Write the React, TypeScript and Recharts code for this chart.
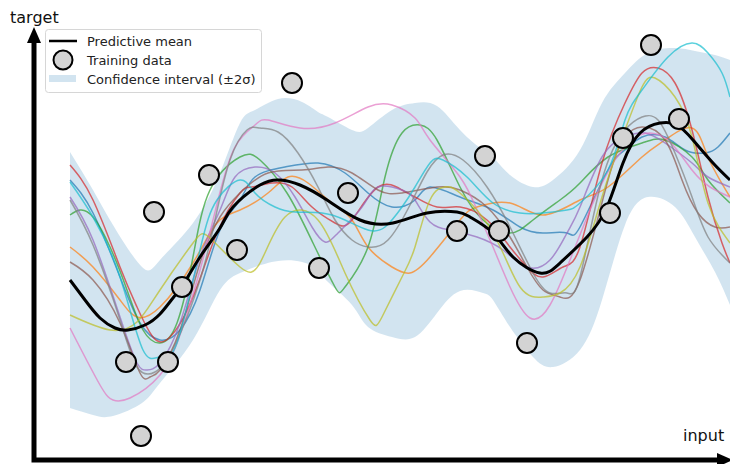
import { ComposedChart, Area, Line, Scatter, XAxis, YAxis } from "recharts";

// ============================================================
// GAUSSIAN PROCESS POSTERIOR CHART
// ============================================================

// ── Training observations: [input, target] ──
const trainingPoints = [
  [8.4, 24.8], [5.6, 9.8], [9.8, 9.8], [7.1, 2.4], [11.2, 17.3], [13.9, 28.5],
  [16.7, 21.0], [22.2, 37.7], [24.9, 19.2], [27.8, 26.7], [38.7, 22.9], [41.5, 30.4],
  [42.9, 22.9], [45.7, 11.7], [54.0, 24.7], [55.3, 32.2], [58.1, 41.5], [60.9, 34.1],
];

// ── Predictive mean ──
const meanCurve = [
  [0, 18.0], [1.5, 16.0], [3.0, 14.2], [4.5, 13.2], [5.8, 13.0], [7.5, 13.5], [9.0, 14.6],
  [10.3, 16.2], [11.3, 17.5], [13.0, 20.3], [15.0, 23.2], [16.3, 25.3], [19.0, 27.5], [21.0, 28.0],
  [23.0, 27.5], [25.7, 26.0], [29.0, 24.0], [32.3, 23.7], [35.7, 24.7], [38.7, 24.8], [40.0, 24.3],
  [42.3, 22.7], [44.3, 20.3], [47.0, 18.7], [49.0, 19.7], [51.7, 22.3], [53.7, 25.3],
  [55.3, 29.7], [57.0, 32.7], [59.0, 33.7], [60.7, 33.5], [62.3, 32.0], [64.3, 29.7], [66.0, 28.0],
];

// ── Confidence band: input, lower, upper ──
const bandInput = [
  0, 2.3, 4.3, 7.2, 9.0, 12.3, 15.0, 17.0, 18.5, 20.8, 23.2, 24.8, 25.8, 28.2, 29.8, 32.2,
  34.5, 36.7, 39.0, 41.3, 42.3, 44.0, 46.3, 48.3, 51.0, 53.2, 55.5, 57.8, 60.5, 62.5, 64.5, 66.0,
];
const bandLower = [
  5.2, 4.5, 4.4, 5.7, 7.7, 12.0, 17.0, 18.7, 19.3, 19.9, 19.8, 19.0, 17.8, 15.5, 13.3, 12.3,
  12.3, 14.7, 16.9, 16.7, 16.0, 13.3, 10.3, 9.3, 11.0, 16.0, 23.5, 26.3, 25.3, 22.3, 18.8, 15.5,
];
const bandUpper = [
  30.8, 27.0, 23.5, 19.3, 20.0, 23.7, 28.7, 33.7, 35.0, 36.1, 35.8, 34.8, 34.3, 33.0, 33.2, 35.0,
  35.7, 35.4, 33.0, 31.0, 30.3, 28.5, 27.3, 28.0, 31.0, 35.7, 38.7, 40.7, 41.2, 40.9, 40.5, 40.0,
];

// ── Posterior samples ──
const blueSample = [
  [0, 28.0], [2.3, 24.7], [5, 18.3], [7, 13.7], [9, 12.0], [11, 13.0], [13, 17.0], [15, 23.0],
  [17, 26.0], [18.5, 28.3], [21.5, 29.3], [24.8, 29.7], [27.5, 28.7], [29.8, 26.7], [32.2, 25.3],
  [34.5, 26.0], [36, 27.3], [39, 26.3], [42.3, 25.0], [45, 23.3], [47.3, 22.7], [49.7, 22.7],
  [51, 23.3], [53.8, 29.0], [55.5, 31.0], [57.2, 32.3], [59.5, 32.3], [61.5, 31.0], [63.5, 30.7],
  [64.8, 31.3], [66, 32.7],
];
const orangeSample = [
  [0, 21.3], [2.3, 19.3], [5, 16.0], [6.7, 14.3], [9, 15.3], [12.3, 19.7], [14.7, 23.7], [17, 25.0],
  [19.8, 26.7], [21.8, 28.3], [23.8, 27.7], [26.2, 25.7], [28.2, 24.0], [29.8, 21.3], [32.2, 19.3],
  [34, 18.7], [36, 20.3], [39, 24.0], [40.7, 25.3], [44, 25.7], [47.3, 24.5], [51, 26.0],
  [53.8, 27.3], [57.2, 30.3], [59.5, 32.0], [62.2, 33.2], [63.8, 30.3], [66, 26.3],
];
const greenSample = [
  [0, 24.5], [1, 25.0], [2.3, 24.3], [4, 21.3], [5.7, 17.0], [7.3, 13.0], [9, 11.7], [10.7, 13.7],
  [12.3, 20.3], [14, 27.0], [17, 30.3], [19, 30.0], [21.7, 26.7], [24.3, 21.7], [26.5, 17.3],
  [27.5, 17.3], [29.8, 21.3], [31.5, 28.3], [33.2, 32.7], [35, 33.5], [36.7, 32.0], [39, 27.3],
  [41.3, 24.0], [44, 22.7], [46.3, 24.0], [49, 26.0], [51, 27.7], [53.8, 30.3], [57.2, 31.7],
  [59.5, 32.0], [62.2, 30.3], [63.8, 28.0], [66, 25.7],
];
const redSample = [
  [0, 29.5], [2.3, 26.0], [5, 19.3], [6.7, 15.3], [8.3, 12.3], [10, 12.3], [12.3, 16.3], [14.7, 22.7],
  [17, 26.7], [18.2, 27.3], [20.2, 27.7], [22.2, 27.3], [24.2, 25.3], [26.5, 23.7], [28.2, 24.0],
  [30.8, 27.3], [33.2, 27.0], [34.5, 26.3], [36.7, 25.3], [39, 25.3], [41.7, 24.0], [44, 21.3],
  [45.7, 19.3], [47.3, 18.3], [49.3, 19.3], [51, 21.3], [53.2, 29.7], [55.5, 35.7], [57.2, 38.7],
  [58.8, 39.2], [60.5, 37.7], [62.2, 33.0], [63.8, 26.3], [65.2, 21.7], [66, 19.7],
];
const purpleSample = [
  [0, 26.3], [2.3, 22.0], [5, 14.3], [6.7, 9.7], [7.7, 9.0], [9, 9.7], [11, 13.7], [13, 20.3],
  [15, 25.0], [16.5, 28.3], [18.5, 29.3], [20.5, 28.7], [22.5, 26.3], [24.2, 23.3], [25.5, 21.8],
  [26.8, 22.7], [29.2, 25.3], [30.8, 27.3], [33.2, 27.0], [34.5, 26.0], [36, 23.8], [38, 23.0],
  [40.7, 22.3], [43.3, 21.0], [45.7, 19.3], [48, 20.0], [49.7, 22.7], [51, 25.3], [53.2, 30.3],
  [55.5, 32.3], [57.5, 32.7], [59.5, 31.7], [62.2, 29.7], [63.8, 28.3], [66, 27.3],
];
const brownSample = [
  [0, 19.8], [2.3, 18.0], [5, 13.7], [7, 8.7], [8, 8.3], [9, 9.0], [11, 13.0], [13, 19.7],
  [15, 24.3], [17, 26.7], [19.8, 28.7], [23.2, 29.0], [25.8, 29.3], [28.2, 28.7], [30.8, 27.0],
  [33.2, 26.7], [36.7, 27.3], [39, 27.0], [41.7, 25.3], [44, 22.3], [45.7, 19.3], [47.3, 17.0],
  [49, 16.3], [51, 18.0], [53.8, 28.0], [55.5, 32.3], [57.2, 33.3], [59.5, 32.0], [61.2, 28.0],
  [62.8, 24.7], [64.5, 23.3], [66, 23.3],
];
const pinkSample = [
  [0, 13.2], [3, 7.5], [4.3, 6.0], [6, 6.2], [9, 8.5], [11, 12.5], [13, 19.0], [14.8, 26.0],
  [16.5, 31.3], [18.5, 33.5], [19.8, 34.0], [23, 33.2], [26.5, 33.7], [29.8, 35.3], [32.2, 35.5],
  [34.5, 34.2], [36, 32.0], [39, 28.3], [40.7, 25.0], [42.3, 21.3], [44, 17.3], [46, 14.2],
  [48, 15.5], [50, 20.0], [52, 25.0], [54, 29.2], [56.2, 32.0], [58, 32.7], [60, 31.8],
  [62.2, 29.0], [64, 27.3], [66, 26.3],
];
const graySample = [
  [0, 26.0], [2.3, 21.5], [5, 14.0], [6.7, 9.3], [8.5, 8.8], [10.5, 11.5], [13, 18.0], [14.5, 24.0],
  [16, 30.0], [17.7, 33.0], [19, 33.2], [20.8, 32.8], [22.8, 30.7], [24.8, 27.3], [26.5, 24.0],
  [28.2, 22.0], [29.8, 21.3], [31.8, 22.0], [34, 25.5], [35.7, 28.8], [37.3, 30.5], [39.3, 30.0],
  [41.7, 27.3], [44, 23.3], [46.3, 18.7], [48, 16.7], [49.7, 16.7], [51, 18.3], [53.2, 28.0],
  [55.5, 33.0], [57.2, 34.3], [58.8, 34.0], [60.5, 30.7], [62.2, 26.3], [63.8, 22.3], [66, 19.7],
];
const oliveSample = [
  [0, 14.5], [4, 13.0], [6.7, 13.8], [9, 17.0], [12.3, 21.7], [14, 22.2], [17, 19.3], [19, 19.7],
  [21.5, 24.3], [24.8, 24.0], [27.5, 18.7], [30, 14.0], [31.2, 14.3], [33.2, 18.3], [34.5, 21.3],
  [36, 26.0], [37.5, 27.3], [39, 26.7], [42.3, 22.7], [45, 17.3], [47.3, 16.3], [49, 16.7],
  [51, 19.3], [53.2, 26.3], [55.5, 33.0], [57.2, 37.3], [58.5, 38.2], [60.5, 36.3], [62.2, 32.3],
  [63.8, 25.7], [66, 21.7],
];
const cyanSample = [
  [0, 27.8], [2.3, 24.3], [5, 18.3], [7.3, 11.0], [9, 10.3], [10.7, 11.7], [13, 21.0], [14.7, 26.0],
  [17, 28.0], [18.5, 26.7], [20.5, 25.3], [22.5, 24.8], [25.2, 24.7], [27.5, 24.0], [29.8, 23.0],
  [31.5, 23.3], [33.2, 25.3], [34.5, 27.3], [36, 29.7], [37.3, 30.0], [39.7, 28.3], [42.3, 25.7],
  [45, 24.7], [47.3, 24.7], [49.7, 25.0], [51, 25.7], [53.8, 29.0], [55.5, 34.0], [57.2, 37.0],
  [59.8, 40.3], [62.2, 41.7], [63.8, 40.7], [65.2, 38.7], [66, 36.3],
];

const samples = [
  { name: "s0", color: "#1f77b4", points: blueSample },
  { name: "s1", color: "#ff7f0e", points: orangeSample },
  { name: "s2", color: "#2ca02c", points: greenSample },
  { name: "s3", color: "#d62728", points: redSample },
  { name: "s4", color: "#9467bd", points: purpleSample },
  { name: "s5", color: "#8c564b", points: brownSample },
  { name: "s6", color: "#e377c2", points: pinkSample },
  { name: "s7", color: "#7f7f7f", points: graySample },
  { name: "s8", color: "#bcbd22", points: oliveSample },
  { name: "s9", color: "#17becf", points: cyanSample },
];

const FONT = "'DejaVu Sans', sans-serif";
const BAND = "#1f77b4";

const toXY = (pts: number[][]) => pts.map(([x, y]) => ({ x, y }));

function TrainingDot(props: any) {
  const { cx, cy } = props;
  if (cx == null || cy == null) return null;
  return <circle cx={cx} cy={cy} r={10} fill="#d3d3d3" stroke="#000" strokeWidth={2} />;
}

// arrows, axis names and legend box drawn over the plot
function Overlay() {
  return (
    <svg
      width={730}
      height={464}
      style={{ position: "absolute", left: 0, top: 0, pointerEvents: "none", fontFamily: FONT }}
    >
      <path d="M34 42 V460 H718" fill="none" stroke="#000" strokeWidth={5} strokeLinejoin="miter" />
      <polygon points="34,27 27,43 41,43" fill="#000" />
      <polygon points="733,460 717,453 717,467" fill="#000" />
      <text x={10} y={23} fontSize={16} fill="#111">target</text>
      <text x={683} y={441} fontSize={16} fill="#111">input</text>

      <rect x={45.5} y={29.5} width={216} height={63} rx={3} fill="#fff" fillOpacity={0.85} stroke="#d6d6d6" />
      <line x1={49} x2={77} y1={41} y2={41} stroke="#000" strokeWidth={2.5} />
      <circle cx={63} cy={60} r={9.5} fill="#d3d3d3" stroke="#000" strokeWidth={2} />
      <rect x={49} y={75} width={27} height={7} fill={BAND} fillOpacity={0.2} />
      <text x={87} y={46} fontSize={13} fill="#222">Predictive mean</text>
      <text x={87} y={65} fontSize={13} fill="#222">Training data</text>
      <text x={87} y={84} fontSize={13} fill="#222">Confidence interval (±2σ)</text>
    </svg>
  );
}

export default function App() {
  const band = bandInput.map((x, i) => ({ x, range: [bandLower[i], bandUpper[i]] }));
  const mean = toXY(meanCurve);
  const train = toXY(trainingPoints);

  return (
    <div style={{ position: "absolute", left: 0, top: 0, width: 730, height: 464, background: "#fff" }}>
      <ComposedChart width={730} height={464} margin={{ top: 0, right: 0, bottom: 4, left: 37 }}>
        <XAxis type="number" dataKey="x" domain={[-3.3, 66]} allowDataOverflow hide />
        <YAxis type="number" dataKey="y" domain={[0, 46]} allowDataOverflow hide />
        <Area
          data={band}
          dataKey="range"
          type="natural"
          stroke="none"
          fill={BAND}
          fillOpacity={0.2}
          isAnimationActive={false}
        />
        {samples.map((s) => (
          <Line
            key={s.name}
            data={toXY(s.points)}
            dataKey="y"
            type="natural"
            stroke={s.color}
            strokeWidth={1.5}
            strokeOpacity={0.7}
            dot={false}
            isAnimationActive={false}
          />
        ))}
        <Line
          data={mean}
          dataKey="y"
          type="natural"
          stroke="#000"
          strokeWidth={3}
          dot={false}
          isAnimationActive={false}
        />
        <Scatter data={train} dataKey="y" shape={TrainingDot} isAnimationActive={false} />
      </ComposedChart>
      <Overlay />
    </div>
  );
}
